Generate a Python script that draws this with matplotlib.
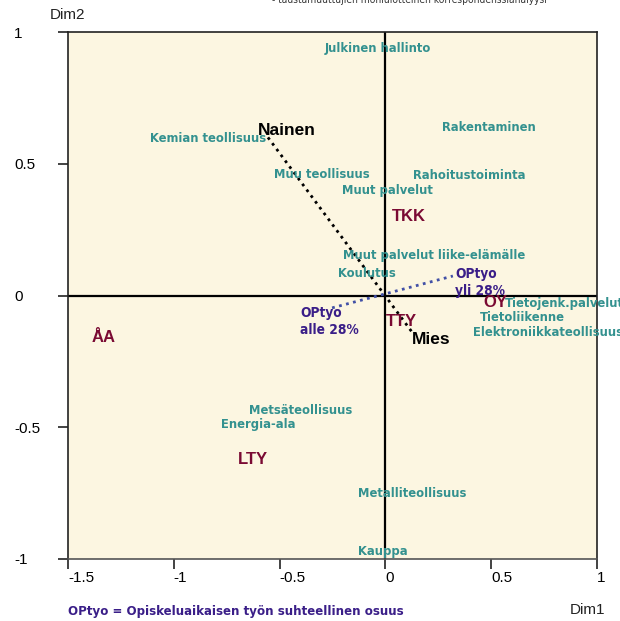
import matplotlib
matplotlib.use("Agg")
import matplotlib.pyplot as plt
from matplotlib import font_manager, transforms

plt.rcParams['axes.unicode_minus'] = False
plt.rcParams['font.family'] = ['Liberation Sans', 'DejaVu Sans']

names = {f.name for f in font_manager.fontManager.ttflist}
if 'Liberation Sans Narrow' in names:
    narrow = ['Liberation Sans Narrow', 'DejaVu Sans']
    stretch = 'normal'
else:
    narrow = ['DejaVu Sans']
    stretch = 'condensed'

# industries (label centres)
ind_labels = ['Julkinen hallinto', 'Rakentaminen', 'Kemian teollisuus', 'Muu teollisuus',
              'Rahoitustoiminta', 'Muut palvelut', 'Muut palvelut liike-elämälle', 'Koulutus',
              'Tietojenk.palvelut', 'Tietoliikenne', 'Elektroniikkateollisuus',
              'Metsäteollisuus', 'Energia-ala', 'Metalliteollisuus', 'Kauppa']
ind_x = [-0.035, 0.49, -0.838, -0.30, 0.395, 0.008, 0.23, -0.087,
         0.845, 0.647, 0.768, -0.40, -0.602, 0.126, -0.01]
ind_y = [0.939, 0.639, 0.594, 0.461, 0.457, 0.40, 0.15, 0.085,
         -0.032, -0.085, -0.142, -0.435, -0.491, -0.75, -0.973]

# universities
uni_labels = ['TKK', 'OY', 'TTY', 'ÅA', 'LTY']
uni_x = [0.113, 0.518, 0.078, -1.33, -0.625]
uni_y = [0.298, -0.028, -0.10, -0.161, -0.624]

# gender (supplementary)
sex_labels = ['Nainen', 'Mies']
sex_x = [-0.555, 0.126]
sex_y = [0.60, -0.139]

# share of work during studies (supplementary)
op_labels = ['OPtyo\nalle 28%', 'OPtyo\nyli 28%']
op_x = [-0.252, 0.319]
op_y = [-0.047, 0.074]

xticks = [-1.5, -1, -0.5, 0, 0.5, 1]
yticks = [-1, -0.5, 0, 0.5, 1]

teal = '#33918F'
red = '#7A0A33'
purple = '#3A1E88'
blue = '#4150A6'

fig = plt.figure(figsize=(6.2, 6.21), dpi=100)
ax = fig.add_axes([68/620, 1 - 559/621, (597-68)/620, (559-32)/621])
ax.set_facecolor('#FCF6E1')
ax.set_xlim(-1.5, 1)
ax.set_ylim(-1, 1)

for s in ax.spines.values():
    s.set_color('#222222')
    s.set_linewidth(1.2)
ax.spines['bottom'].set_color('#555555')

ax.axhline(0, color='black', lw=1.6, zorder=1)
ax.axvline(0, color='black', lw=1.6, zorder=1)

ax.set_xticks(xticks)
ax.set_xticklabels([f'{v:g}' for v in xticks])
ax.set_yticks(yticks)
ax.set_yticklabels([f'{v:g}' for v in yticks])
ax.tick_params(axis='x', direction='out', length=7.2, width=1.2, pad=1.5,
               labelsize=11, color='#222222')
ax.tick_params(axis='y', direction='out', length=7.2, width=1.2, pad=31.5,
               labelsize=11, color='#222222')
for t in ax.get_xticklabels():
    t.set_horizontalalignment('left')
for t in ax.get_yticklabels():
    t.set_horizontalalignment('left')

# connecting lines through origin
ax.plot(sex_x, sex_y, color='black', ls=(0, (1, 1.6)), lw=2, zorder=2)
ax.plot(op_x, op_y, color=blue, ls=(0, (1, 1.6)), lw=2, zorder=2)

for lab, x, y in zip(ind_labels, ind_x, ind_y):
    ax.text(x, y, lab, color=teal, fontsize=9.3, fontweight='bold', family=narrow,
            fontstretch=stretch, ha='center', va='center', clip_on=False, zorder=3)

for lab, x, y in zip(uni_labels, uni_x, uni_y):
    ax.text(x, y, lab, color=red, fontsize=12, fontweight='bold',
            ha='center', va='center', zorder=3)


def shifted(dx, dy):
    return ax.transData + transforms.ScaledTranslation(dx/100, dy/100, fig.dpi_scale_trans)


ax.text(sex_x[0], sex_y[0], sex_labels[0], color='black', fontsize=12.5,
        fontweight='bold', ha='left', va='bottom', transform=shifted(-10, -1), zorder=4)
ax.text(sex_x[1], sex_y[1], sex_labels[1], color='black', fontsize=12.5,
        fontweight='bold', ha='left', va='top', zorder=4)

ax.text(op_x[0], op_y[0], op_labels[0], color=purple, fontsize=9.8, fontweight='bold',
        family=narrow, fontstretch=stretch, ha='left', va='top', linespacing=1.3,
        transform=shifted(-32, 2), zorder=4)
ax.text(op_x[1], op_y[1], op_labels[1], color=purple, fontsize=9.8, fontweight='bold',
        family=narrow, fontstretch=stretch, ha='left', va='top', linespacing=1.3,
        transform=shifted(2, 9), zorder=4)

fig.text(50/620, 1 - 15/621, 'Dim2', fontsize=11, ha='left', va='center', color='#222222')
fig.text(570/620, 1 - 610/621, 'Dim1', fontsize=11, ha='left', va='center', color='#222222')
fig.text(68/620, 1 - 611/621, 'OPtyo = Opiskeluaikaisen työn suhteellinen osuus',
         color=purple, fontsize=9.45, fontweight='bold', family=narrow, fontstretch=stretch,
         ha='left', va='center')
fig.text(272/620, 1 - 3/621, '- taustamuuttujien moniulotteinen korrespondenssianalyysi',
         fontsize=7.3, family=narrow, fontstretch=stretch, color='#333333',
         ha='left', va='baseline')

fig.savefig('out.png', dpi=100)
